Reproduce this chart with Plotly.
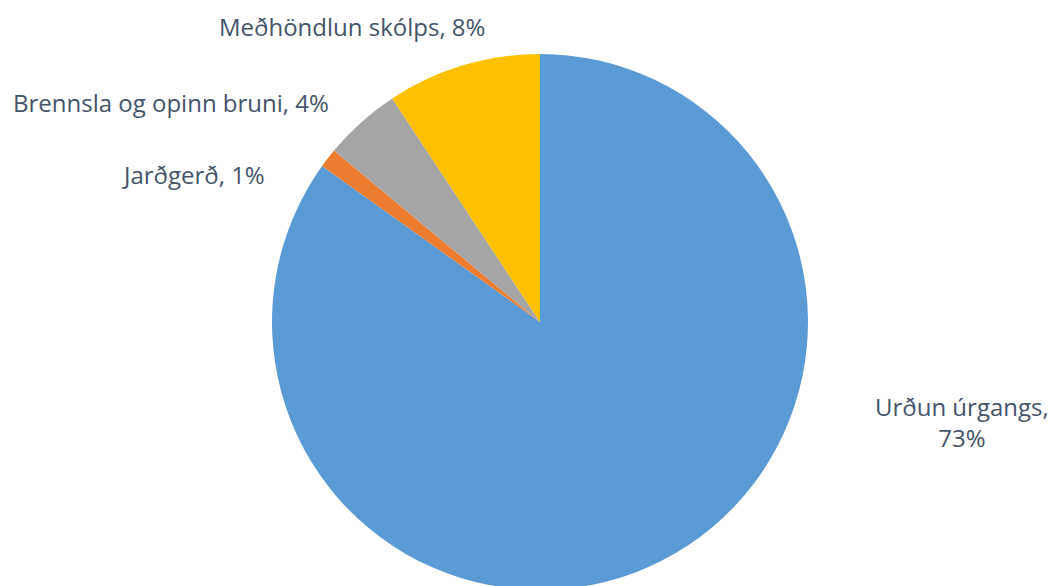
import plotly.graph_objects as go

categories = ["Urðun úrgangs", "Jarðgerð", "Brennsla og opinn bruni", "Meðhöndlun skólps"]
values = [73, 1, 4, 8]
label_texts = ["Urðun úrgangs,<br>73%", "Jarðgerð, 1%", "Brennsla og opinn bruni, 4%", "Meðhöndlun skólps, 8%"]
colors = ["#5B9BD5", "#ED7D31", "#A5A5A5", "#FFC000"]
# label anchor positions in page pixels (window 1055x586)
label_px = [(962, 422), (193, 174), (171, 103), (352, 27)]

W, H = 1055, 586
OFF = 8  # page body margin
T, B, L, R = 46, 4, 0, 0
PW, PH = W - L - R, H - T - B
cx, r = 540 - OFF, PH / 2

fig = go.Figure(go.Pie(
    labels=categories,
    values=values,
    sort=False,
    direction="clockwise",
    rotation=0,
    marker=dict(colors=colors, line=dict(color="white", width=0)),
    textinfo="none",
    hoverinfo="label+value",
    domain=dict(x=[(cx - r - L) / PW, (cx + r - L) / PW], y=[0, 1]),
    showlegend=False,
))

for txt, (px, py) in zip(label_texts, label_px):
    fig.add_annotation(
        x=(px - OFF - L) / PW, y=1 - (py - OFF - T) / PH, xref="paper", yref="paper",
        text=txt, showarrow=False, xanchor="center", yanchor="middle",
        font=dict(family="Open Sans", size=24, color="#44546A"),
        align="center",
    )

fig.update_layout(
    width=W, height=H,
    margin=dict(l=L, r=R, t=T, b=B),
    paper_bgcolor="white", plot_bgcolor="white",
)

fig.write_html("out.html")
